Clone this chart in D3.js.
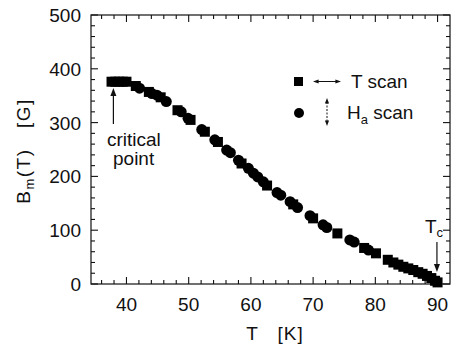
<!DOCTYPE html>
<html><head><meta charset="utf-8">
<script src="https://cdn.jsdelivr.net/npm/d3@7"></script>
<style>body{margin:0;background:#fff}text{font-family:"Liberation Sans",Arial,sans-serif;fill:#111}</style>
</head><body><svg id="c" width="465" height="363"></svg>
<script>
const tScanT = [37.6,38.2,38.8,39.4,40.0,41.5,43.6,45.5,48.2,50.3,52.6,54.7,58.5,62.6,66.8,70.0,73.9,78.2,80.1,82.0,82.9,83.7,84.5,85.3,86.1,86.9,87.6,88.3,89.0,89.6,90.0];
const tScanB = [376,376,376,376,376,368,357,347,323,305,283,264,224,183,148,122,94,67,57,45,40,36,32,29,26,22,19,15,11,6,3];
const haScanT = [42.1,44.1,44.9,46.4,48.8,49.9,52.1,54.2,56.1,56.7,58.0,59.6,60.4,61.1,62.0,64.2,64.8,66.3,67.5,69.5,71.6,72.2,75.9,76.6,78.9];
const haScanB = [364,354,351,339,320,308,287,268,249,244,230,215,206,199,190,170,165,153,142,127,110,105,82,78,63];
const xTicks = [40,50,60,70,80,90];
const yTicks = [0,100,200,300,400,500];

const svg = d3.select("#c");
const L=91,R=450,T=15,B=284;
const x = d3.scaleLinear().domain([34.3,92]).range([L,R]);
const y = d3.scaleLinear().domain([0,500]).range([B,T]);
const fs = 19;

svg.append("rect").attr("x",L).attr("y",T).attr("width",R-L).attr("height",B-T)
  .attr("fill","none").attr("stroke","#111").attr("stroke-width",1.2);

const xMinor = d3.range(36,92,2);
const yMinor = d3.range(0,501,20);
const g = svg.append("g").attr("stroke","#111").attr("stroke-width",1.1);
xMinor.forEach(v=>{
  const len = v%10===0?7:4;
  g.append("line").attr("x1",x(v)).attr("x2",x(v)).attr("y1",B).attr("y2",B-len);
  g.append("line").attr("x1",x(v)).attr("x2",x(v)).attr("y1",T).attr("y2",T+len);
});
yMinor.forEach(v=>{
  const len = v%100===0?7:4;
  g.append("line").attr("y1",y(v)).attr("y2",y(v)).attr("x1",L).attr("x2",L+len);
  g.append("line").attr("y1",y(v)).attr("y2",y(v)).attr("x1",R).attr("x2",R-len);
});

svg.append("g").selectAll("text").data(xTicks).join("text")
  .attr("x",d=>x(d)).attr("y",B+27).attr("text-anchor","middle")
  .attr("font-size",fs).text(d=>d);
svg.append("g").selectAll("text").data(yTicks).join("text")
  .attr("x",L-10).attr("y",d=>y(d)+7).attr("text-anchor","end")
  .attr("font-size",fs).text(d=>d);

svg.append("text").attr("x",275).attr("y",340).attr("text-anchor","middle")
  .attr("font-size",fs).attr("letter-spacing",1).attr("xml:space","preserve").text("T   [K]");
const yl = svg.append("text").attr("transform","translate(30,151) rotate(-90)")
  .attr("text-anchor","middle").attr("font-size",fs).attr("letter-spacing",1.5).attr("xml:space","preserve");
yl.append("tspan").text("B");
yl.append("tspan").attr("font-size",13).attr("dy",4).text("m");
yl.append("tspan").attr("dy",-4).text("(T)   [G]");

const sq = 10;
svg.append("g").selectAll("rect").data(tScanT).join("rect")
  .attr("x",d=>x(d)-sq/2).attr("y",(d,i)=>y(tScanB[i])-sq/2)
  .attr("width",sq).attr("height",sq).attr("fill","#000");
svg.append("g").selectAll("circle").data(haScanT).join("circle")
  .attr("cx",d=>x(d)).attr("cy",(d,i)=>y(haScanB[i])).attr("r",5.5).attr("fill","#000");

function head(px,py,dx,dy,s){ // arrowhead tip at px,py pointing in dir dx,dy
  const nx=-dy, ny=dx;
  svg.append("path").attr("d",`M${px},${py}L${px-dx*s*1.6+nx*s*0.6},${py-dy*s*1.6+ny*s*0.6}L${px-dx*s*1.6-nx*s*0.6},${py-dy*s*1.6-ny*s*0.6}Z`)
    .attr("fill","#111");
}

const cx0 = x(37.9);
svg.append("line").attr("x1",cx0).attr("x2",cx0).attr("y1",124).attr("y2",95)
  .attr("stroke","#111").attr("stroke-width",1.2);
head(cx0,88,0,-1,5);
svg.append("text").attr("x",107).attr("y",146).attr("font-size",fs).text("critical");
svg.append("text").attr("x",113).attr("y",165).attr("font-size",fs).text("point");

const tx0 = x(89.9);
svg.append("line").attr("x1",tx0).attr("x2",tx0).attr("y1",242).attr("y2",266)
  .attr("stroke","#111").attr("stroke-width",1.2);
head(tx0,272,0,1,5);
const tc = svg.append("text").attr("x",425).attr("y",233).attr("font-size",fs);
tc.append("tspan").text("T");
tc.append("tspan").attr("font-size",13).attr("dy",4).text("c");

svg.append("rect").attr("x",294).attr("y",77).attr("width",9).attr("height",9).attr("fill","#000");
svg.append("line").attr("x1",316).attr("x2",337).attr("y1",81.5).attr("y2",81.5)
  .attr("stroke","#111").attr("stroke-width",1);
head(313,81.5,-1,0,3.5); head(341,81.5,1,0,3.5);
svg.append("text").attr("x",351).attr("y",88).attr("font-size",fs).text("T scan");
svg.append("circle").attr("cx",299).attr("cy",113).attr("r",5).attr("fill","#000");
svg.append("line").attr("x1",327).attr("x2",327).attr("y1",102).attr("y2",122)
  .attr("stroke","#111").attr("stroke-width",1).attr("stroke-dasharray","2,1.5");
head(327,98,0,-1,3.5); head(327,126,0,1,3.5);
const ha = svg.append("text").attr("x",347).attr("y",119).attr("font-size",fs);
ha.append("tspan").text("H");
ha.append("tspan").attr("font-size",13).attr("dy",5).text("a");
ha.append("tspan").attr("dy",-5).text(" scan");
</script></body></html>
